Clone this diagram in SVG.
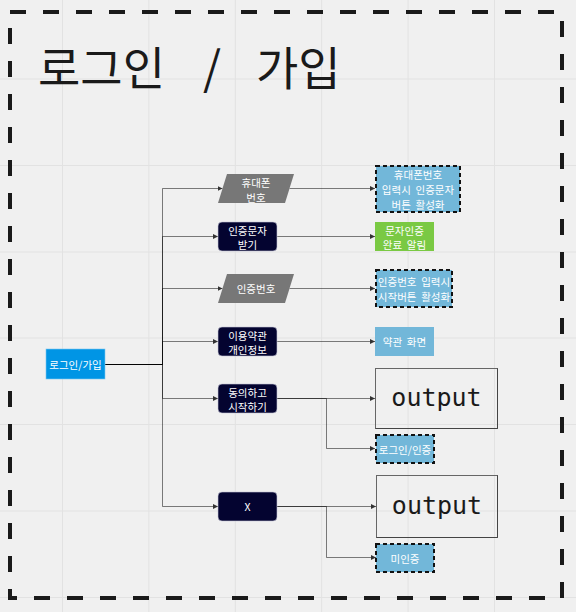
<svg xmlns="http://www.w3.org/2000/svg" width="576" height="612" viewBox="0 0 576 612">
<defs>
<style>
.grid{stroke:#e2e2e2;stroke-width:1}
.lbl{font-family:"Noto Sans CJK KR","Noto Sans",sans-serif;font-size:10.5px;fill:#ffffff;text-anchor:middle;dominant-baseline:central;white-space:pre}
.ttl{font-family:"Noto Sans CJK KR","Noto Sans",sans-serif;font-size:46px;fill:#1a1a1a}
.dark{fill:#040430;stroke:#c8c8d8;stroke-width:0.6}
.para{fill:#777777}
.lb{fill:#72b7d9}
.dash{stroke:#111111;stroke-width:2;stroke-dasharray:4 3}
.green{fill:#7ac943}
.out{fill:none;stroke:#666666;stroke-width:1}
.outtxt{font-family:"DejaVu Sans Mono","Liberation Mono",monospace;font-size:25px;fill:#1a1a1a;text-anchor:middle}
.conn{fill:none;stroke:#000000;stroke-opacity:0.5;stroke-width:1;marker-end:url(#arr)}
</style>
<marker id="arr" markerUnits="userSpaceOnUse" markerWidth="5" markerHeight="5" refX="5" refY="2.5" orient="auto">
<path d="M0,0 L5,2.5 L0,5 z" fill="#333333"/>
</marker>
</defs>
<rect x="0" y="0" width="576" height="612" fill="#f0f0f0"/>
<g id="grid">
<line class="grid" x1="62.5" y1="0" x2="62.5" y2="612"/>
<line class="grid" x1="148.9" y1="0" x2="148.9" y2="612"/>
<line class="grid" x1="235.3" y1="0" x2="235.3" y2="612"/>
<line class="grid" x1="321.7" y1="0" x2="321.7" y2="612"/>
<line class="grid" x1="408.1" y1="0" x2="408.1" y2="612"/>
<line class="grid" x1="494.5" y1="0" x2="494.5" y2="612"/>
<line class="grid" x1="0" y1="79" x2="576" y2="79"/>
<line class="grid" x1="0" y1="165.5" x2="576" y2="165.5"/>
<line class="grid" x1="0" y1="252" x2="576" y2="252"/>
<line class="grid" x1="0" y1="338" x2="576" y2="338"/>
<line class="grid" x1="0" y1="424.5" x2="576" y2="424.5"/>
<line class="grid" x1="0" y1="511" x2="576" y2="511"/>
<line class="grid" x1="0" y1="597.5" x2="576" y2="597.5"/>
</g>
<g id="frame">
<rect x="10" y="12" width="552" height="586" fill="none" stroke="#1a1a1a" stroke-width="4" stroke-dasharray="16 17"/>
<text class="ttl" x="38" y="85">로그인</text>
<text class="ttl" x="212" y="85" text-anchor="middle">/</text>
<text class="ttl" x="256" y="85">가입</text>
</g>
<g id="connectors">
<path class="conn" d="M105,364.5 H162.5 V188.5 H222.5"/>
<path class="conn" d="M105,364.5 H162.5 V236.5 H218"/>
<path class="conn" d="M105,364.5 H162.5 V288.5 H222.5"/>
<path class="conn" d="M105,364.5 H162.5 V341.5 H218"/>
<path class="conn" d="M105,364.5 H162.5 V398.5 H218"/>
<path class="conn" d="M105,364.5 H162.5 V506.5 H218"/>
<path class="conn" d="M289.5,188.5 H375"/>
<path class="conn" d="M277,236.5 H375"/>
<path class="conn" d="M289.5,288.5 H375"/>
<path class="conn" d="M277,341.5 H375"/>
<path class="conn" d="M277,398.5 H375"/>
<path class="conn" d="M277,398.5 H326.5 V448.5 H375"/>
<path class="conn" d="M277,506.5 H376"/>
<path class="conn" d="M277,506.5 H326.5 V557.5 H376"/>
</g>
<g id="n-login">
<rect x="46" y="349" width="59" height="30" fill="#0095e5" stroke="#7cc8f0" stroke-width="0.6"/>
<text class="lbl" x="75.5" y="364">로그인/가입</text>
</g>
<g id="n-phone">
<polygon class="para" points="227,174 294,174 285,203 218,203"/>
<text class="lbl" x="256" y="182">휴대폰</text>
<text class="lbl" x="256" y="197">번호</text>
</g>
<g id="n-sms">
<rect class="dark" x="218" y="222" width="59" height="29" rx="4"/>
<text class="lbl" x="247.5" y="230">인증문자</text>
<text class="lbl" x="247.5" y="244">받기</text>
</g>
<g id="n-code">
<polygon class="para" points="227,274 294,274 285,303 218,303"/>
<text class="lbl" x="256" y="288.5">인증번호</text>
</g>
<g id="n-terms">
<rect class="dark" x="218" y="327" width="59" height="29" rx="4"/>
<text class="lbl" x="247.5" y="335">이용약관</text>
<text class="lbl" x="247.5" y="349">개인정보</text>
</g>
<g id="n-agree">
<rect class="dark" x="218" y="384" width="59" height="29" rx="4"/>
<text class="lbl" x="247.5" y="392">동의하고</text>
<text class="lbl" x="247.5" y="406">시작하기</text>
</g>
<g id="n-x">
<rect class="dark" x="218" y="492" width="59" height="29" rx="4"/>
<text class="lbl" x="247.5" y="506.5">X</text>
</g>
<g id="n-phone-r">
<rect class="lb dash" x="376" y="166" width="84" height="46"/>
<text class="lbl" x="418" y="174.5">휴대폰번호</text>
<text class="lbl" x="418" y="189.5">입력시  인증문자</text>
<text class="lbl" x="418" y="204">버튼  활성화</text>
</g>
<g id="n-sms-r">
<rect class="green" x="375" y="222" width="59" height="29"/>
<text class="lbl" x="404.5" y="230">문자인증</text>
<text class="lbl" x="404.5" y="244">완료  알림</text>
</g>
<g id="n-code-r">
<rect class="lb dash" x="376" y="270" width="76" height="37"/>
<text class="lbl" x="414" y="281">인증번호  입력시</text>
<text class="lbl" x="414" y="296">시작버튼  활성화</text>
</g>
<g id="n-terms-r">
<rect class="lb" x="375" y="327" width="59" height="29"/>
<text class="lbl" x="404.5" y="341.5">약관  화면</text>
</g>
<g id="n-out1">
<rect class="out" x="375.5" y="368.5" width="122" height="60"/>
<path d="M497.5,368.5 V428.5 H375.5" fill="none" stroke="#444444" stroke-width="1"/>
<text class="outtxt" x="436.5" y="406">output</text>
</g>
<g id="n-loginauth">
<rect class="lb dash" x="376" y="435" width="58" height="28"/>
<text class="lbl" x="405" y="449">로그인/인증</text>
</g>
<g id="n-out2">
<rect class="out" x="376.5" y="475.5" width="121" height="62"/>
<path d="M497.5,475.5 V537.5 H376.5" fill="none" stroke="#444444" stroke-width="1"/>
<text class="outtxt" x="437" y="514">output</text>
</g>
<g id="n-unauth">
<rect class="lb dash" x="376" y="544" width="58" height="28"/>
<text class="lbl" x="405" y="558">미인증</text>
</g>
</svg>
